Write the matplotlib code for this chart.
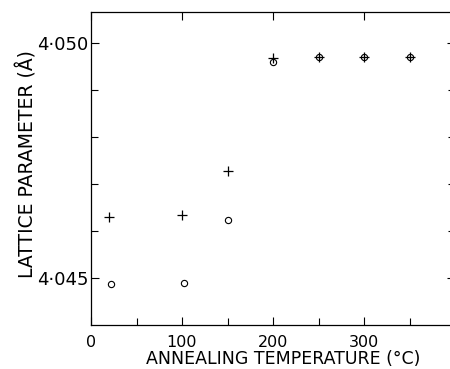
import numpy as np
import matplotlib
matplotlib.use("Agg")
import matplotlib.pyplot as plt
from matplotlib.ticker import FixedLocator, MultipleLocator

# datos
temp_cruz = [20, 100, 150, 200, 250, 300, 350]
param_cruz = [4.0463, 4.04634, 4.04728, 4.04969, 4.0497, 4.0497, 4.0497]

temp_circ = [22, 102, 150, 200, 250, 300, 350]
param_circ = [4.04488, 4.0449, 4.04623, 4.0496, 4.0497, 4.0497, 4.0497]

xticks = [0, 100, 200, 300]
xticklabels = ["0", "100", "200", "300"]
yticks = [4.045, 4.050]
yticklabels = ["4\u00b7045", "4\u00b7050"]

plt.rcParams["font.family"] = "DejaVu Sans"

fig = plt.figure(figsize=(4.5, 3.69), dpi=100)
# el eje derecho queda fuera de la imagen, como en el original
ax = fig.add_axes([91 / 450, 44 / 369, 364 / 450, 313 / 369])

ax.plot(temp_cruz, param_cruz, linestyle="none", marker="+", ms=7, mew=0.9, color="black")
ax.plot(temp_circ, param_circ, linestyle="none", marker="o", ms=4.5, mew=0.8,
        mfc="none", mec="black")

ax.set_xlim(0, 400)
ax.set_ylim(4.044, 4.05066)

ax.set_xticks(xticks)
ax.set_xticklabels(xticklabels, fontsize=11.5)
ax.xaxis.set_minor_locator(MultipleLocator(50))
ax.set_yticks(yticks)
ax.set_yticklabels(yticklabels, fontsize=13)
ax.yaxis.set_minor_locator(FixedLocator([4.046, 4.047, 4.048, 4.049]))

ax.tick_params(which="both", direction="in", top=True, right=True, width=0.8, colors="black")
ax.tick_params(which="major", length=6, pad=2)
ax.tick_params(axis="x", which="major", pad=7.5)
ax.tick_params(which="minor", length=5)
ax.tick_params(axis="x", which="minor", top=False)

for s in ax.spines.values():
    s.set_linewidth(0.9)

ax.set_xlabel("ANNEALING TEMPERATURE (\u00b0C)", fontsize=12.5)
ax.xaxis.set_label_coords(0.527, -0.080)
ax.set_ylabel("LATTICE PARAMETER (\u00c5)", fontsize=13.5)
ax.yaxis.set_label_coords(-0.148, 0.515)

fig.savefig("out.png", dpi=100)
